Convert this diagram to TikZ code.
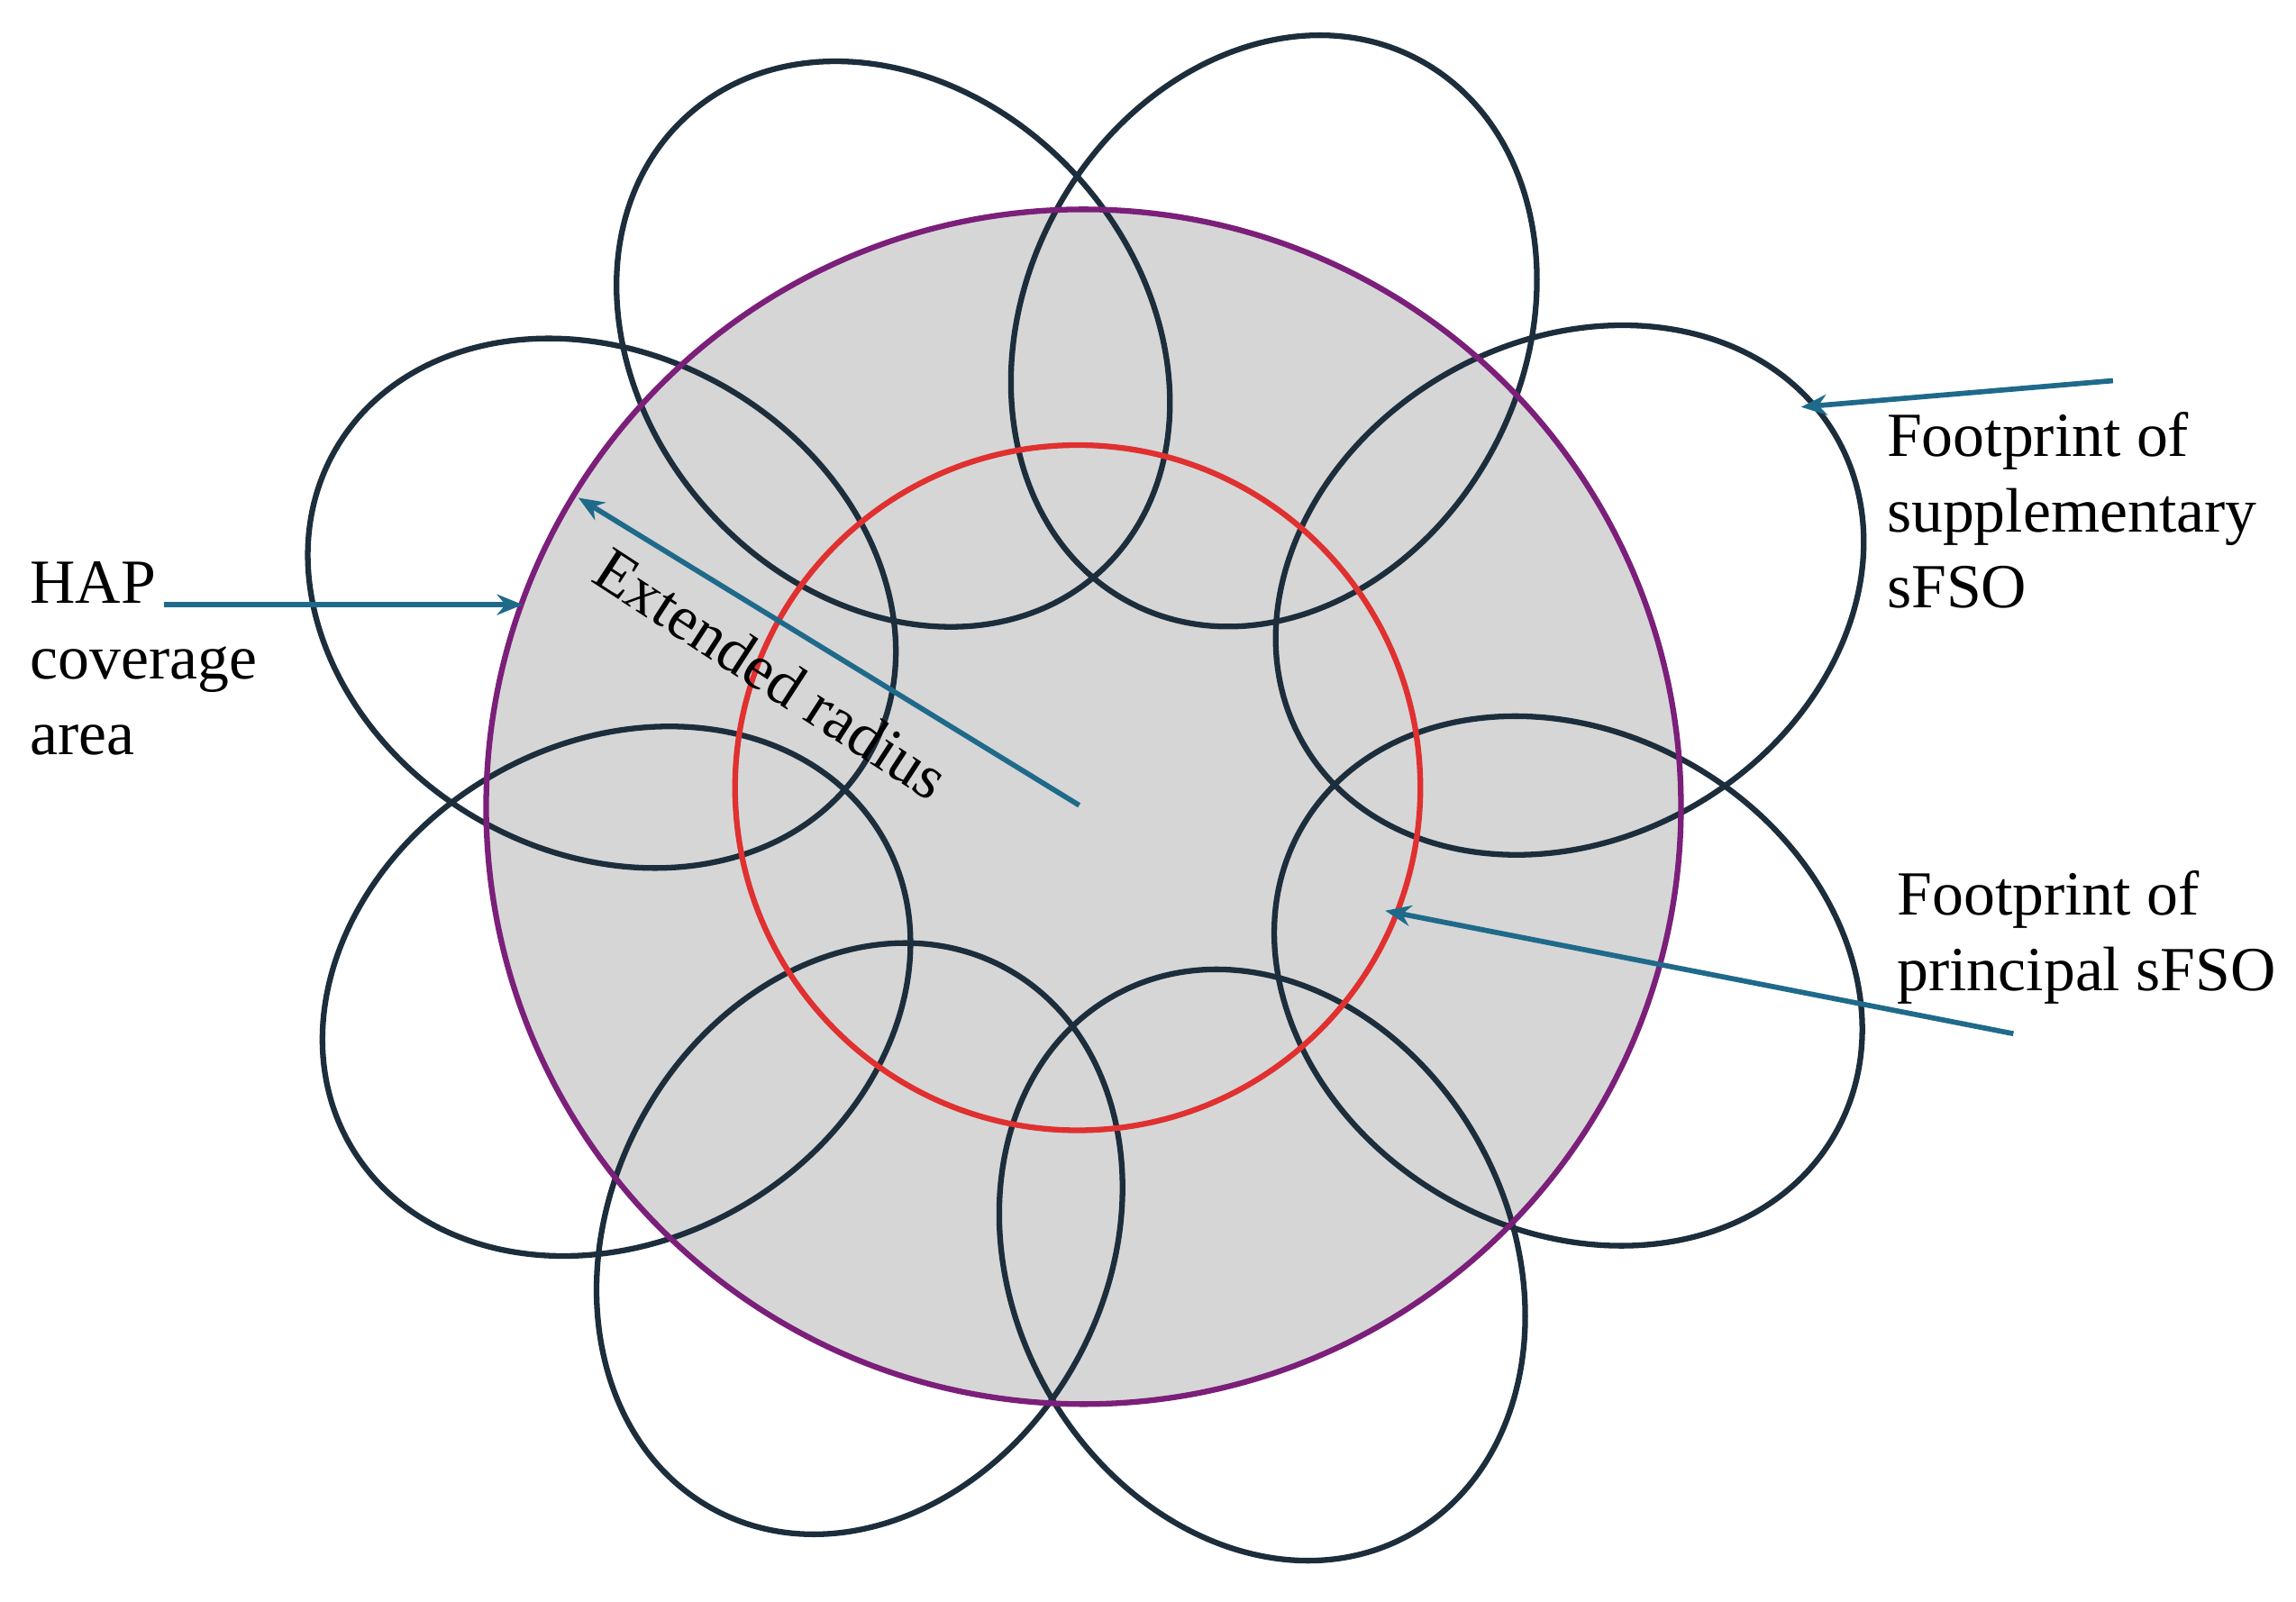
\documentclass[tikz,border=0pt]{standalone}
\usepackage{fontspec}
\setmainfont{Liberation Serif}
\usetikzlibrary{arrows.meta}
\definecolor{ring}{HTML}{1C2D3C}
\definecolor{arr}{HTML}{1F6A8A}
\definecolor{hap}{HTML}{7B1F7A}
\definecolor{prin}{HTML}{E03030}
\definecolor{area}{HTML}{D6D6D6}
\begin{document}
\begin{tikzpicture}[x=0.01cm,y=-0.01cm,
  foot/.style={draw=ring,line width=1.1pt},
  lab/.style={font=\fontsize{12.2}{14.7}\selectfont,align=left,inner sep=0pt},
  pointer/.style={draw=arr,line width=1pt,-{Stealth[length=5pt,width=4pt]}}]
\useasboundingbox (0,0) rectangle (1568,1094);
\fill[area] (740,551) circle [radius=408];
\foreach \cx/\cy/\ang in {610/235/-48, 870/226/62, 1072/403/30, 1071/670/-30,
  862/864/-62, 587/846/62, 421/677/30, 411/412/-30}
  \draw[foot,rotate around={\ang:(\cx,\cy)}] (\cx,\cy) ellipse [x radius=210, y radius=-170];
\draw[hap,line width=1.1pt] (740,551) circle [radius=408];
\draw[prin,line width=1.1pt] (736,538) circle [radius=234];
% labels
\node[lab,anchor=north west] (hapl) at (20,383) {HAP\\coverage\\area};
\coordinate (hs) at (112,413); \coordinate (he) at (357,413);
\draw[pointer] (hs) -- (he);
\coordinate (rs) at (737,550); \coordinate (re) at (395,340);
\draw[pointer] (rs) -- (re);
\node[lab,rotate=-33] (ext) at (527,460) {Extended radius};
\node[lab,anchor=north west] (supl) at (1288,281) {Footprint of\\supplementary\\sFSO};
\coordinate (ss) at (1443,260); \coordinate (se) at (1230,278);
\draw[pointer] (ss) -- (se);
\node[lab,anchor=north west] (prl) at (1295,594) {Footprint of\\principal sFSO};
\coordinate (ps) at (1375,706); \coordinate (pe) at (946,622);
\draw[pointer] (ps) -- (pe);
\end{tikzpicture}
\end{document}
